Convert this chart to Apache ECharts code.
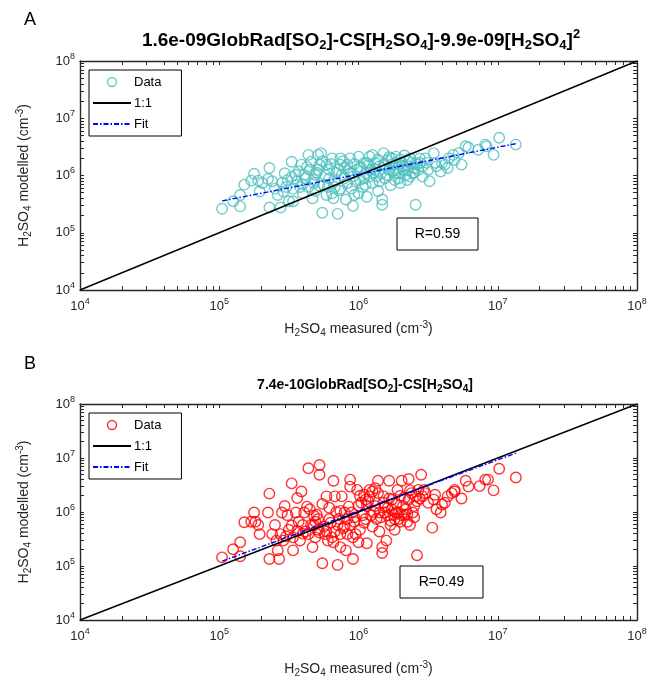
<!DOCTYPE html>
<html><head><meta charset="utf-8">
<script src="https://cdn.jsdelivr.net/npm/echarts@6/dist/echarts.min.js"></script>
<style>html,body{margin:0;padding:0;background:#fff}#c{width:651px;height:691px}</style>
</head><body><div id="c"></div>
<script>
// ---- Data (log10 of concentrations) ----
const measuredLogA = [5.02,5.10,5.15,5.15,5.18,5.23,5.25,5.28,5.29,5.31,5.36,5.35,5.36,5.40,5.42,5.44,5.45,5.47,5.49,5.50,5.52,5.53,5.55,5.58,5.59,5.60,5.62,5.64,5.65,5.67,5.68,5.69,5.71,5.72,5.73,5.74,5.76,5.77,5.78,5.79,5.81,5.82,5.83,5.85,5.86,5.87,5.88,5.90,5.91,5.92,5.94,5.95,5.96,5.97,5.99,6.00,6.01,6.03,6.04,6.05,6.06,6.08,6.09,6.10,6.12,6.13,6.14,6.15,6.17,6.17,6.18,6.19,6.21,6.22,6.23,6.24,6.26,6.27,6.28,6.29,6.31,6.32,6.33,6.35,6.36,6.37,6.38,6.40,6.41,6.42,6.44,6.46,6.49,6.51,6.54,6.56,6.59,6.62,6.65,6.68,6.72,6.74,6.77,6.79,6.86,6.91,6.92,6.97,7.01,7.13,
5.57,5.61,5.66,5.71,5.75,5.79,5.83,5.87,5.90,5.94,5.98,6.02,6.05,6.08,6.12,6.15,6.18,6.21,6.24,6.26,6.29,6.31,6.34,6.36,6.39,6.43,6.46,6.50,6.55,6.60,6.64,6.69,5.77,5.85,5.92,5.96,6.06,6.10,6.23,6.30,6.35,6.41,5.53,5.46,5.38,5.69,5.64,5.81,5.87,6.00,
5.63,5.70,5.74,5.80,5.84,5.89,5.93,5.97,6.01,6.04,6.07,6.11,6.14,6.16,6.19,6.22,6.25,6.27,6.30,6.33,6.37,6.40,6.44,6.48,5.56,5.52,5.48,5.60,5.68,5.72];
const modelledLogA = [5.42,5.55,5.46,5.66,5.84,5.91,6.03,5.91,5.72,5.87,6.13,5.94,5.44,5.77,5.66,5.44,5.87,6.04,5.92,5.55,6.24,5.55,6.01,5.80,6.19,5.69,5.95,6.36,6.10,5.60,5.87,5.73,6.36,6.19,6.39,5.35,6.01,5.66,5.80,6.10,6.30,5.60,5.90,5.33,5.74,6.30,6.01,6.13,5.58,5.87,6.30,5.77,5.47,5.66,6.10,6.33,5.92,5.80,6.22,6.04,5.63,6.33,6.10,5.87,6.22,5.98,5.73,6.16,5.58,5.49,6.39,5.95,6.27,6.10,5.83,6.19,6.04,6.33,6.13,5.95,6.22,6.10,6.35,5.92,6.16,5.98,6.22,6.13,5.49,6.19,6.30,6.16,6.22,5.90,6.39,6.16,6.07,6.19,6.30,6.36,6.39,6.19,6.51,6.49,6.45,6.54,6.51,6.36,6.66,6.54,
6.07,6.01,6.24,6.10,5.84,5.95,5.80,6.19,5.95,6.04,5.89,6.13,5.84,5.98,6.10,5.90,6.19,6.01,6.30,5.92,6.04,6.16,6.01,6.25,6.04,6.10,5.98,6.10,6.22,6.22,6.13,6.27,6.19,6.10,6.19,5.98,6.22,6.36,6.13,5.87,6.10,6.22,5.77,5.72,5.90,6.01,5.80,5.69,5.77,5.69,
6.15,6.05,6.25,6.20,6.05,6.25,6.08,6.20,6.15,5.95,6.18,6.05,6.28,6.03,6.20,6.32,6.08,6.22,6.28,6.15,6.30,6.05,6.22,6.30,5.90,5.98,5.80,5.85,5.92,5.82];

const measuredLogB = [5.02,5.10,5.15,5.15,5.18,5.23,5.25,5.28,5.29,5.26,5.36,5.35,5.36,5.40,5.41,5.43,5.42,5.44,5.45,5.47,5.49,5.50,5.52,5.53,5.55,5.56,5.58,5.59,5.60,5.62,5.64,5.65,5.67,5.68,5.69,5.71,5.72,5.72,5.74,5.76,5.77,5.78,5.79,5.82,5.82,5.83,5.85,5.86,5.87,5.88,5.90,5.91,5.92,5.94,5.94,5.95,5.96,5.97,5.99,6.00,6.01,6.03,6.04,6.05,6.06,6.08,6.09,6.10,6.12,6.13,6.14,6.15,6.17,6.17,6.18,6.19,6.20,6.21,6.22,6.23,6.24,6.26,6.27,6.28,6.29,6.31,6.32,6.33,6.35,6.36,6.37,6.38,6.40,6.42,6.42,6.45,6.47,6.53,6.54,6.56,6.59,6.62,6.67,6.69,6.74,6.77,6.79,6.87,6.91,6.93,6.97,7.01,7.13,
5.57,5.61,5.66,5.71,5.75,5.79,5.83,5.87,5.90,5.94,5.98,6.02,6.05,6.08,6.12,6.15,6.18,6.21,6.24,6.26,6.29,6.31,6.34,6.36,6.39,6.43,6.46,6.50,6.55,6.60,6.64,6.69,5.77,5.85,5.92,5.96,6.06,6.10,6.23,6.30,6.35,6.41,5.53,5.46,5.38,5.69,5.64,5.81,5.87,6.00,
5.63,5.70,5.74,5.80,5.84,5.89,5.93,5.97,6.01,6.04,6.07,6.11,6.14,6.16,6.19,6.22,6.25,6.27,6.30,6.33,6.37,6.40,6.44,6.48,5.56,5.52,5.48,5.60,5.68,5.72];
const modelledLogB = [5.16,5.31,5.18,5.44,5.81,5.82,5.99,5.76,5.59,5.82,6.34,5.99,5.13,5.76,5.47,5.13,5.29,5.59,5.99,6.11,5.94,5.67,6.53,5.29,5.99,6.26,5.47,6.38,5.76,5.64,6.81,6.05,5.35,5.93,5.53,5.67,6.87,6.69,5.05,5.59,6.29,5.47,6.08,6.58,5.44,6.29,5.02,5.87,6.02,6.29,5.73,5.29,5.59,6.60,6.47,5.99,5.13,5.82,6.41,6.12,5.67,5.94,6.32,6.23,5.42,6.41,5.94,5.73,6.44,5.87,6.58,5.64,5.24,5.35,6.29,5.99,5.47,6.08,6.58,5.84,6.23,5.67,5.99,6.41,5.87,6.58,6.11,6.26,5.82,6.61,5.76,6.35,6.11,5.20,6.20,6.69,6.41,5.71,6.23,6.05,5.99,6.17,6.35,6.38,6.25,6.58,6.47,6.48,6.60,6.60,6.40,6.80,6.64,
5.82,5.99,5.76,5.87,5.73,5.87,5.64,5.59,5.99,5.76,5.59,6.17,5.87,6.29,6.11,5.99,6.17,5.94,6.05,5.87,5.99,5.94,6.05,6.23,5.99,6.41,6.29,6.17,6.32,6.14,6.29,6.41,5.64,5.76,5.87,5.53,6.11,6.38,5.76,5.82,5.96,6.29,5.53,5.47,5.59,5.82,5.59,5.53,5.35,5.44,
6.10,5.95,6.15,5.80,6.00,5.70,6.10,5.90,6.30,5.80,6.20,6.00,6.35,5.90,6.10,6.25,5.95,6.15,6.30,5.95,6.40,5.90,6.25,6.35,5.65,5.75,5.55,5.60,5.75,5.62];

// 1:1 and fit lines (endpoints)
const oneToOneX = [1e4, 1e8];
const oneToOneY = [1e4, 1e8];
const fitAX = [1.05e5, 1.35e7];
const fitAY = [3.6e5, 3.6e6];
const fitBX = [1.05e5, 1.35e7];
const fitBY = [1.23e5, 1.23e7];

const tickDecades = [4, 5, 6, 7, 8];
const tickMultipliers = [1, 2, 3, 4, 5, 6, 7, 8, 9];
const titleA = '1.6e-09GlobRad[SO{s|2}]-CS[H{s|2}SO{s|4}]-9.9e-09[H{s|2}SO{s|4}]{p|2}';
const titleB = '7.4e-10GlobRad[SO{s|2}]-CS[H{s|2}SO{s|4}]';
const rTextA = 'R=0.59';
const rTextB = 'R=0.49';

// ---- build ----
const FONT = "'Liberation Sans', Arial, Helvetica, sans-serif";
const AX = '#262626';
const pts = (xs, ys) => xs.map((v, i) => [Math.pow(10, v), Math.pow(10, ys[i])]);
const pair = (xs, ys) => xs.map((v, i) => [v, ys[i]]);
const majorTicks = tickDecades.map(d => Math.pow(10, d));
const allTicks = [];
tickDecades.forEach(d => tickMultipliers.forEach(m => { const v = m * Math.pow(10, d); if (v <= 1e8 + 1) allTicks.push(v); }));

const labelRich = {
  b: { fontSize: 13, color: AX, fontFamily: FONT },
  e: { fontSize: 9, color: AX, fontFamily: FONT, padding: [0, 0, 9, 0] }
};
const nameRich = {
  s: { fontSize: 10, color: AX, fontFamily: FONT, padding: [8, 0, 0, 0] },
  p: { fontSize: 10, color: AX, fontFamily: FONT, padding: [0, 0, 8, 0] }
};
const titleRichA = {
  s: { fontSize: 13, fontWeight: 'bold', color: '#000', padding: [10, 0, 0, 0], fontFamily: FONT },
  p: { fontSize: 13, fontWeight: 'bold', color: '#000', padding: [0, 0, 12, 0], fontFamily: FONT }
};
const titleRichB = {
  s: { fontSize: 10, fontWeight: 'bold', color: '#000', padding: [8, 0, 0, 0], fontFamily: FONT }
};
const fmt = v => '{b|10}{e|' + Math.round(Math.log10(v)) + '}';

function axis(kind, gridIndex, position, showLabel, name, gap) {
  const a = {
    type: 'log', logBase: 10, gridIndex, position, min: 1e4, max: 1e8,
    axisLine: { show: true, onZero: false, lineStyle: { color: AX, width: 1.4 } },
    axisTick: { show: true, inside: true, length: 4, customValues: allTicks, lineStyle: { color: AX, width: 1 } },
    axisLabel: { show: showLabel, customValues: majorTicks, formatter: fmt, rich: labelRich, margin: kind === 'x' ? 7 : 5, fontFamily: FONT },
    splitLine: { show: false }, minorTick: { show: false }
  };
  if (name) {
    a.name = name;
    a.nameLocation = 'middle';
    a.nameGap = gap;
    a.nameTextStyle = { fontSize: 14, color: AX, fontFamily: FONT, rich: nameRich };
    if (kind === 'y') a.nameRotate = 90;
  }
  return a;
}
const xName = 'H{s|2}SO{s|4} measured (cm{p|-3})';
const yName = 'H{s|2}SO{s|4} modelled (cm{p|-3})';

function legend(top, suffix, color) {
  const hide = { color: 'transparent', borderColor: 'transparent', borderWidth: 0, opacity: 0 };
  return {
    left: 89, top, orient: 'vertical', itemWidth: 38, itemHeight: 9, itemGap: 5,
    padding: [4, 20, 4, 3], borderColor: '#000', borderWidth: 1, backgroundColor: '#fff',
    textStyle: { fontSize: 13, color: '#000', fontFamily: FONT, lineHeight: 16, padding: [0, 0, 0, -2] },
    selectedMode: false,
    formatter: n => n.replace(suffix, ''),
    data: [
      { name: 'Data' + suffix, icon: 'circle', itemStyle: { color: 'transparent', borderColor: color, borderWidth: 1.5 } },
      { name: '1:1' + suffix, itemStyle: hide },
      { name: 'Fit' + suffix, itemStyle: hide }
    ]
  };
}

function seriesSet(suffix, gi, data, color, fit) {
  return [
    { name: 'Data' + suffix, type: 'scatter', xAxisIndex: gi * 2, yAxisIndex: gi * 2, data, symbol: 'circle', symbolSize: 10.5,
      itemStyle: { color: 'transparent', borderColor: color, borderWidth: 1.4 }, z: 3, silent: true },
    { name: '1:1' + suffix, type: 'line', xAxisIndex: gi * 2, yAxisIndex: gi * 2, data: pair(oneToOneX, oneToOneY), symbol: 'none',
      lineStyle: { color: '#000', width: 1.4 }, itemStyle: { color: '#000' }, z: 4, silent: true },
    { name: 'Fit' + suffix, type: 'line', xAxisIndex: gi * 2, yAxisIndex: gi * 2, data: fit, symbol: 'none',
      lineStyle: { color: '#0000FF', width: 1.4, type: [5, 2, 1.5, 2] }, itemStyle: { color: '#0000FF' }, z: 5, silent: true }
  ];
}

function rBox(x, y, w, h, text) {
  return { type: 'group', children: [
    { type: 'rect', shape: { x, y, width: w, height: h }, style: { fill: '#fff', stroke: '#000', lineWidth: 1 }, z: 10 },
    { type: 'text', x: x + w / 2, y: y + h / 2, style: { text, font: '14px ' + FONT, fill: '#000', align: 'center', verticalAlign: 'middle' }, z: 11 }
  ]};
}

const chart = echarts.init(document.getElementById('c'), null, { renderer: 'canvas' });
chart.setOption({
  animation: false,
  backgroundColor: '#fff',
  textStyle: { fontFamily: FONT },
  title: [
    { text: titleA, left: 356, top: 23, textAlign: 'center', textStyle: { fontSize: 19, fontWeight: 'bold', color: '#000', fontFamily: FONT, rich: titleRichA } },
    { text: titleB, left: 360, top: 371, textAlign: 'center', textStyle: { fontSize: 14, fontWeight: 'bold', color: '#000', fontFamily: FONT, rich: titleRichB } },
    { text: 'A', left: 19, top: 6, textStyle: { fontSize: 18, fontWeight: 'normal', color: '#000', fontFamily: FONT } },
    { text: 'B', left: 19, top: 350, textStyle: { fontSize: 18, fontWeight: 'normal', color: '#000', fontFamily: FONT } }
  ],
  grid: [
    { left: 80, top: 61, width: 557, height: 229 },
    { left: 80, top: 404, width: 557, height: 216 }
  ],
  xAxis: [
    axis('x', 0, 'bottom', true, xName, 30), axis('x', 0, 'top', false),
    axis('x', 1, 'bottom', true, xName, 40), axis('x', 1, 'top', false)
  ],
  yAxis: [
    axis('y', 0, 'left', true, yName, 47), axis('y', 0, 'right', false),
    axis('y', 1, 'left', true, yName, 47), axis('y', 1, 'right', false)
  ],
  legend: [legend(70, '', '#4DBFBF'), legend(413, 'B', '#FF0000')],
  series: [
    ...seriesSet('', 0, pts(measuredLogA, modelledLogA), '#4DBFBF', pair(fitAX, fitAY)),
    ...seriesSet('B', 1, pts(measuredLogB, modelledLogB), '#FF0000', pair(fitBX, fitBY))
  ],
  graphic: [rBox(397, 218, 81, 32, rTextA), rBox(400, 566, 83, 32, rTextB)]
});
</script>
</body></html>
